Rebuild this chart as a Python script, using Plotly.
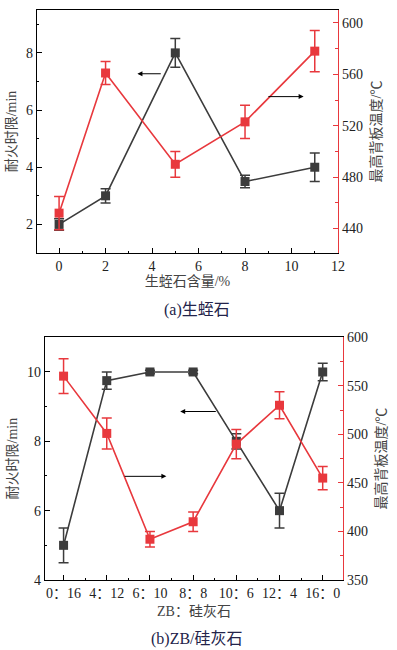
import plotly.graph_objects as go

# ---- Panel (a) data ----
a_x = [0, 2, 5, 8, 11]
a_fire = [2.0, 3.0, 8.0, 3.5, 4.0]
a_fire_err = [0.2, 0.25, 0.5, 0.22, 0.5]
a_temp = [452, 561, 490, 523, 578]
a_temp_err = [13, 9, 10, 13, 16]

# ---- Panel (b) data ----
b_cats = ["0：16", "4：12", "6：10", "8：8", "10：6", "12：4", "16：0"]
b_fire = [5.0, 9.75, 10.0, 10.0, 8.0, 6.0, 10.0]
b_fire_err = [0.5, 0.25, 0.05, 0.05, 0.22, 0.5, 0.25]
b_temp = [560, 501, 392, 410, 490, 530, 455]
b_temp_err = [18, 16, 8, 10, 15, 14, 12]

BLACK = "#3c3c3c"
RED = "#e8383d"
FONT = "'Liberation Serif', 'Noto Sans CJK SC', serif"
W, H = 397, 650

def px_x(a, b):
    return [a / W, b / W]

def px_y(top, bottom):
    return [1 - bottom / H, 1 - top / H]

fig = go.Figure()

def add_series(x, y, err, color, xa, ya):
    fig.add_trace(go.Scatter(
        x=x, y=y, mode="lines+markers", xaxis=xa, yaxis=ya,
        line=dict(color=color, width=1.6),
        marker=dict(symbol="square", size=9, color=color),
        error_y=dict(type="data", array=err, visible=True, color=color,
                     thickness=1.5, width=5),
        showlegend=False, cliponaxis=False))

b_idx = list(range(len(b_cats)))

add_series(a_x, a_fire, a_fire_err, BLACK, "x", "y")
add_series(a_x, a_temp, a_temp_err, RED, "x", "y2")
add_series(b_idx, b_fire, b_fire_err, BLACK, "x2", "y3")
add_series(b_idx, b_temp, b_temp_err, RED, "x2", "y4")

tickfont = dict(family=FONT, size=14, color="#222222")
titlefont = dict(family=FONT, size=14, color="#444444")

common_axis = dict(showgrid=False, zeroline=False, showline=True, linewidth=1.2,
                   ticks="inside", ticklen=5, tickwidth=1, tickfont=tickfont,
                   automargin=False)

fig.update_layout(
    width=W, height=H, margin=dict(l=0, r=0, t=0, b=0),
    paper_bgcolor="white", plot_bgcolor="white",
    xaxis=dict(**common_axis, domain=px_x(37, 338), anchor="y", range=[-0.95, 12],
               tickvals=[0, 2, 4, 6, 8, 10, 12], linecolor="black", mirror=True,
               tickcolor="black",
               minor=dict(dtick=1, tick0=0, ticks="inside", ticklen=2, tickcolor="black"),
               title=dict(text="生蛭石含量/%", font=titlefont, standoff=2)),
    yaxis=dict(**common_axis, domain=px_y(10, 253), anchor="x", range=[1.0, 9.5],
               tickvals=[2, 4, 6, 8], linecolor="black", tickcolor="black",
               minor=dict(dtick=1, tick0=1, ticks="inside", ticklen=2, tickcolor="black"),
               title=dict(text="耐火时限/min", font=titlefont, standoff=6)),
    yaxis2=dict(**common_axis, overlaying="y", side="right", anchor="x", range=[421, 610],
                tickvals=[440, 480, 520, 560, 600], linecolor=RED, tickcolor=RED,
                minor=dict(dtick=20, tick0=0, ticks="inside", ticklen=3, tickcolor=RED),
                title=dict(text="最高背板温度/℃", font=titlefont, standoff=9)),
    xaxis2=dict(**common_axis, domain=px_x(45, 343), anchor="y3", range=[-0.43, 6.47],
                tickvals=b_idx, ticktext=b_cats, linecolor="black", mirror=True,
                tickcolor="black",
                minor=dict(dtick=0.5, tick0=0, ticks="inside", ticklen=2, tickcolor="black"),
                title=dict(text="ZB：硅灰石", font=titlefont, standoff=6)),
    yaxis3=dict(**common_axis, domain=px_y(337.3, 580), anchor="x2", range=[4, 11],
                tickvals=[4, 6, 8, 10], linecolor="black", tickcolor="black",
                minor=dict(dtick=1, tick0=0, ticks="inside", ticklen=2, tickcolor="black"),
                title=dict(text="耐火时限/min", font=titlefont, standoff=6)),
    yaxis4=dict(**common_axis, overlaying="y3", side="right", anchor="x2", range=[350, 600],
                tickvals=[350, 400, 450, 500, 550, 600], linecolor=RED, tickcolor=RED,
                minor=dict(dtick=25, tick0=0, ticks="inside", ticklen=3, tickcolor=RED),
                title=dict(text="最高背板温度/℃", font=titlefont, standoff=9)),
)

def arrow(x0, x1, y, xr, yr):
    fig.add_annotation(x=x1, y=y, ax=x0, ay=y, xref=xr, yref=yr, axref=xr, ayref=yr,
                       showarrow=True, arrowhead=2, arrowsize=1, arrowwidth=1,
                       arrowcolor="black", text="")

arrow(4.44, 3.37, 7.27, "x", "y")
arrow(8.94, 10.52, 6.47, "x", "y")
arrow(3.56, 2.70, 8.86, "x2", "y3")
arrow(1.38, 2.38, 6.99, "x2", "y3")

capfont = dict(family=FONT, size=16, color="#23234a")
fig.add_annotation(x=197 / W, y=1 - 310 / H, xref="paper", yref="paper", text="(a)生蛭石",
                   showarrow=False, font=capfont, yanchor="middle", xanchor="center")
fig.add_annotation(x=197 / W, y=1 - 639 / H, xref="paper", yref="paper", text="(b)ZB/硅灰石",
                   showarrow=False, font=capfont, yanchor="middle", xanchor="center")

fig.write_html("out.html", config={"displayModeBar": False},
               post_script="document.body.style.margin='0px';")
